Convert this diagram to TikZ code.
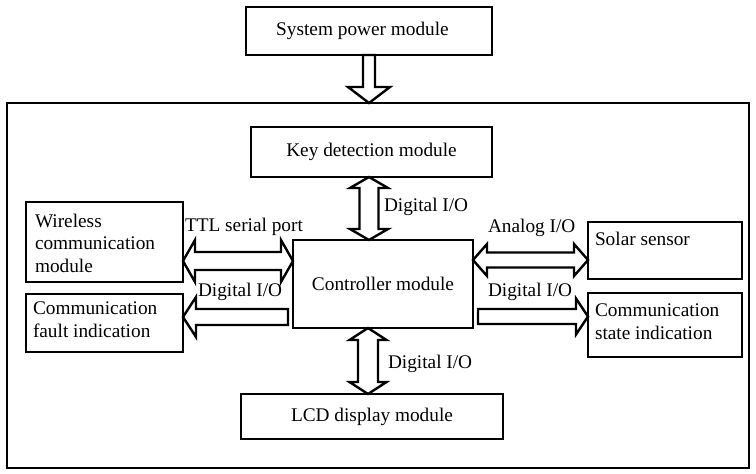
\documentclass[tikz,border=0pt]{standalone}
\usepackage{fontspec}
\setmainfont{Liberation Serif}
\usetikzlibrary{calc}
% vertical double block arrow: #1 top tip, #2 bottom tip, #3 shaft half, #4 head half, #5 head length
\newcommand{\blkVdouble}[5]{%
  \draw[blk] let \p1=(#1), \p2=(#2) in
    (\x1,\y1) -- (\x1+#4,\y1-#5) -- (\x1+#3,\y1-#5) -- (\x1+#3,\y2+#5) -- (\x1+#4,\y2+#5)
    -- (\x1,\y2) -- (\x1-#4,\y2+#5) -- (\x1-#3,\y2+#5) -- (\x1-#3,\y1-#5) -- (\x1-#4,\y1-#5) -- cycle;}
% horizontal double block arrow: #1 left tip, #2 right tip
\newcommand{\blkHdouble}[5]{%
  \draw[blk] let \p1=(#1), \p2=(#2) in
    (\x1,\y1) -- (\x1+#5,\y1+#4) -- (\x1+#5,\y1+#3) -- (\x2-#5,\y1+#3) -- (\x2-#5,\y1+#4)
    -- (\x2,\y1) -- (\x2-#5,\y1-#4) -- (\x2-#5,\y1-#3) -- (\x1+#5,\y1-#3) -- (\x1+#5,\y1-#4) -- cycle;}
\begin{document}
\begin{tikzpicture}[x=1pt,y=-1pt,
  box/.style={draw,line width=2.4pt,inner sep=0pt,outer sep=0pt,anchor=north west,
    font=\fontsize{19.3}{22.5}\selectfont},
  txt/.style={inner sep=0pt,outer sep=0pt,font=\fontsize{19.3}{22.5}\selectfont,align=left},
  blk/.style={draw,line width=2.4pt,fill=white,line join=miter}]
\useasboundingbox (0,0) rectangle (756,474);

% boxes
\node[box,minimum width=246,minimum height=48] (sys) at (246,7) {};
\node[txt] (systxt) at ($(sys.center)+(-6.5,0)$) {System power module};
\node[box,minimum width=742,minimum height=365] (frame) at (7,103) {};
\node[box,minimum width=241,minimum height=50] (key) at (251,127) {Key detection module};
\node[box,minimum width=180,minimum height=88] (ctrl) at (293,240) {Controller module};
\node[box,minimum width=157,minimum height=80] (wl) at (26,202) {};
\node[txt,anchor=north west] (wltxt) at ($(wl.north west)+(9,12)$) {Wireless\\communication\\module};
\node[box,minimum width=157,minimum height=58] (fault) at (26,294) {};
\node[txt,anchor=north west] (faulttxt) at ($(fault.north west)+(7,8)$) {Communication\\fault indication};
\node[box,minimum width=154,minimum height=57] (solar) at (588,222) {};
\node[txt,anchor=north west] (solartxt) at ($(solar.north west)+(7,10)$) {Solar sensor};
\node[box,minimum width=154,minimum height=64] (state) at (588,293) {};
\node[txt,anchor=north west] (statetxt) at ($(state.north west)+(7,11)$) {Communication\\state indication};
\node[box,minimum width=262,minimum height=45] (lcd) at (241,394) {LCD display module};

% power arrow (single, down)
\draw[blk] let \p1=(sys.south), \p2=(sys.south |- frame.north) in
  (\x1-6pt,\y1) -- (\x1+6pt,\y1) -- (\x1+6pt,\y2+16pt) -- (\x1+21pt,\y2+16pt) -- (\x1,\y2)
  -- (\x1-21pt,\y2+16pt) -- (\x1-6pt,\y2+16pt) -- cycle;

% key <-> controller
\coordinate (keyA) at ($(key.south)+(-2.5,0)$);
\blkVdouble{keyA}{keyA |- ctrl.north}{9.5pt}{19pt}{11pt}
% controller <-> lcd
\coordinate (lcdA) at ($(lcd.north)+(-4,0)$);
\blkVdouble{lcdA |- ctrl.south}{lcdA}{10pt}{18.5pt}{12pt}
% wireless <-> controller
\coordinate (ttlB) at ($(ctrl.west)+(0,-23)$);
\blkHdouble{ttlB -| wl.east}{ttlB}{9pt}{21pt}{12pt}
% controller <-> solar
\coordinate (anB) at ($(solar.west)+(0,9.5)$);
\blkHdouble{anB -| ctrl.east}{anB}{7.5pt}{16pt}{14pt}

% controller -> fault (single, left)
\coordinate (fltTip) at ($(fault.east)+(0,-6)$);
\coordinate (fltTail) at ($(fltTip -| ctrl.west)+(-5,0)$);
\draw[blk] let \p1=(fltTail), \p2=(fltTip) in
  (\x1,\y1+8pt) -- (\x2+13pt,\y1+8pt) -- (\x2+13pt,\y1+20pt) -- (\x2,\y1) -- (\x2+13pt,\y1-20pt)
  -- (\x2+13pt,\y1-8pt) -- (\x1,\y1-8pt) -- cycle;
% controller -> state (single, right)
\coordinate (stTip) at ($(state.west)+(0,-8.5)$);
\coordinate (stTail) at ($(stTip -| ctrl.east)+(5,0)$);
\draw[blk] let \p1=(stTail), \p2=(stTip) in
  (\x1,\y1+7.5pt) -- (\x2-12pt,\y1+7.5pt) -- (\x2-12pt,\y1+18pt) -- (\x2,\y1) -- (\x2-12pt,\y1-18pt)
  -- (\x2-12pt,\y1-7.5pt) -- (\x1,\y1-7.5pt) -- cycle;

% labels
\node[txt,anchor=base west] (l1) at (185,231) {TTL serial port};
\node[txt,anchor=base west] (l2) at (198,296) {Digital I/O};
\node[txt,anchor=base west] (l3) at (384,211) {Digital I/O};
\node[txt,anchor=base west] (l4) at (488,232) {Analog I/O};
\node[txt,anchor=base west] (l5) at (488,296) {Digital I/O};
\node[txt,anchor=base west] (l6) at (388,368) {Digital I/O};
\end{tikzpicture}
\end{document}
